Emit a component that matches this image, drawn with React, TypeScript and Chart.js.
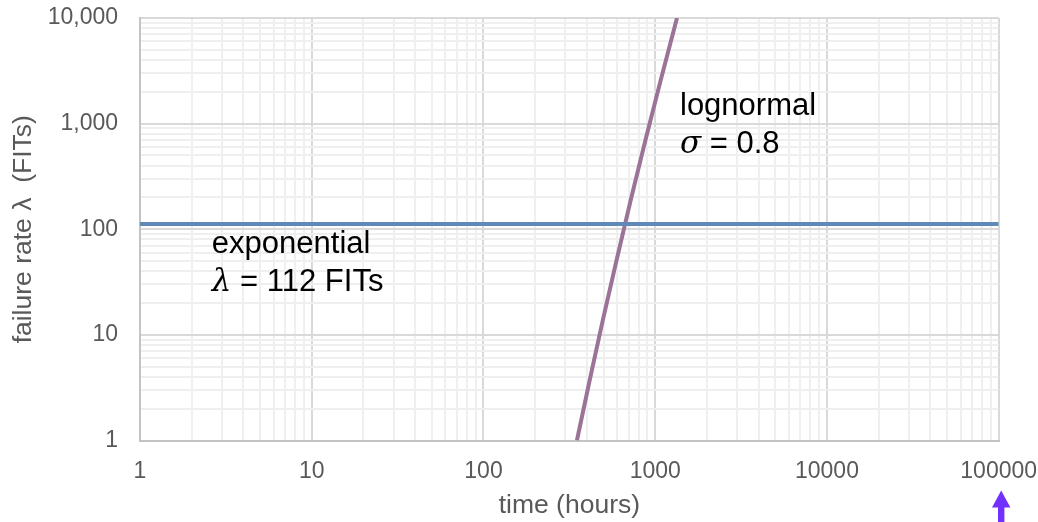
import React, { useEffect, useRef } from 'react';
import { Chart, registerables } from 'chart.js';

Chart.register(...registerables);

// ---- data ----
const exponentialTimes = [1, 100000];
const exponentialRates = [112, 112];

const lognormalTimes = [350, 415, 495, 595, 719, 876, 1075, 1339];
const lognormalRates = [1, 3.7, 13.7, 50.6, 187, 693, 2566, 10000];

const xDecades = [1, 10, 100, 1000, 10000, 100000];
const yDecades = [1, 10, 100, 1000, 10000];
const xTickLabels = ['1', '10', '100', '1000', '10000', '100000'];
const yTickLabels = ['1', '10', '100', '1,000', '10,000'];
const minorMultipliers = [2, 3, 4, 5, 6, 7, 8, 9];

const xTitle = 'time (hours)';
const yTitle = 'failure rate \u03bb  (FITs)';
const lognormalLabel = ['lognormal', '\u03c3', ' = 0.8'];
const exponentialLabel = ['exponential', '\u03bb', ' = 112 FITs'];

// ---- styles ----
const SANS = '"Liberation Sans", Arial, sans-serif';
const SERIF = '"DejaVu Serif", "Liberation Serif", serif';
const MAJOR = '#d9d9d9';
const MINOR = '#efefef';
const AXIS_TEXT = '#595959';
const BLUE = '#6089b8';
const PURPLE = '#9b7397';
const ARROW = '#7030ff';

function buildTicks(decades: number[]) {
  const ticks: { value: number; major: boolean }[] = [];
  decades.forEach((d, i) => {
    ticks.push({ value: d, major: true });
    if (i < decades.length - 1) {
      minorMultipliers.forEach((m) => ticks.push({ value: d * m, major: false }));
    }
  });
  return ticks;
}

function labelFor(decades: number[], labels: string[], v: number) {
  const idx = decades.findIndex((d) => Math.abs(d - v) < d * 1e-9);
  return idx >= 0 ? labels[idx] : '';
}

const annotationPlugin = {
  id: 'annotations',
  afterDraw(chart: any) {
    const { ctx, scales } = chart;
    const xs = scales.x;
    const ys = scales.y;
    ctx.save();
    ctx.textBaseline = 'alphabetic';
    ctx.textAlign = 'left';
    ctx.fillStyle = '#000';
    const drawLabel = (lines: string[], xv: number, yv: number) => {
      const x = xs.getPixelForValue(xv);
      const y = ys.getPixelForValue(yv);
      ctx.font = `31px ${SANS}`;
      ctx.fillText(lines[0], x, y);
      ctx.font = `italic 31px ${SERIF}`;
      ctx.fillText(lines[1], x, y + 38);
      const w = ctx.measureText(lines[1]).width;
      ctx.font = `31px ${SANS}`;
      ctx.fillText(lines[2], x + w, y + 38);
    };
    drawLabel(lognormalLabel, 1394, 1208);
    drawLabel(exponentialLabel, 2.62, 59.3);

    // arrow under the 100000 tick
    const ax = xs.getPixelForValue(100000) + 2.5;
    const base = chart.chartArea.bottom;
    ctx.fillStyle = ARROW;
    ctx.beginPath();
    ctx.moveTo(ax, base + 50);
    ctx.lineTo(ax + 9.2, base + 67);
    ctx.lineTo(ax - 9.2, base + 67);
    ctx.closePath();
    ctx.fill();
    ctx.fillRect(ax - 3.2, base + 66, 6.4, 20);
    ctx.restore();
  },
};

export default function App() {
  const ref = useRef<HTMLCanvasElement>(null);

  useEffect(() => {
    const canvas = ref.current;
    if (!canvas) return;
    const chart = new Chart(canvas, {
      type: 'line',
      data: {
        datasets: [
          {
            label: 'exponential',
            data: exponentialTimes.map((t, i) => ({ x: t, y: exponentialRates[i] })),
            borderColor: BLUE,
            borderWidth: 4,
            pointRadius: 0,
            fill: false,
          },
          {
            label: 'lognormal',
            data: lognormalTimes.map((t, i) => ({ x: t, y: lognormalRates[i] })),
            borderColor: PURPLE,
            borderWidth: 4,
            pointRadius: 0,
            fill: false,
            tension: 0,
          },
        ],
      },
      options: {
        animation: false,
        responsive: false,
        maintainAspectRatio: false,
        layout: { padding: { left: 0, top: 18, right: 39.3, bottom: 0 } },
        plugins: {
          legend: { display: false },
          tooltip: { enabled: false },
        },
        scales: {
          x: {
            type: 'logarithmic',
            position: 'bottom',
            min: 1,
            max: 100000,
            afterBuildTicks: (s: any) => {
              s.ticks = buildTicks(xDecades);
            },
            afterFit: (s: any) => {
              s.height = 81.5;
              s.paddingLeft = 0;
              s.paddingRight = 0;
              s.paddingTop = 0;
              s.paddingBottom = 0;
            },
            grid: {
              color: (c: any) => (c.tick && c.tick.major ? MAJOR : MINOR),
              lineWidth: 2,
              drawTicks: false,
            },
            border: { color: '#c4c4c4', width: 2 },
            ticks: {
              autoSkip: false,
              maxRotation: 0,
              minRotation: 0,
              padding: 17,
              color: AXIS_TEXT,
              font: { family: SANS, size: 23 },
              callback: (v: any) => labelFor(xDecades, xTickLabels, Number(v)),
            },
            title: {
              display: true,
              text: xTitle,
              color: AXIS_TEXT,
              font: { family: SANS, size: 26.5 },
              padding: { top: 0, bottom: 0 },
            },
          },
          y: {
            type: 'logarithmic',
            min: 1,
            max: 10000,
            afterBuildTicks: (s: any) => {
              s.ticks = buildTicks(yDecades);
            },
            afterFit: (s: any) => {
              s.width = 140;
              s.paddingLeft = 0;
              s.paddingRight = 0;
              s.paddingTop = 0;
              s.paddingBottom = 0;
            },
            grid: {
              color: (c: any) => (c.tick && c.tick.major ? MAJOR : MINOR),
              lineWidth: 2,
              drawTicks: false,
            },
            border: { color: '#c4c4c4', width: 2 },
            ticks: {
              autoSkip: false,
              padding: 22,
              color: AXIS_TEXT,
              font: { family: SANS, size: 23 },
              callback: (v: any) => labelFor(yDecades, yTickLabels, Number(v)),
            },
            title: {
              display: true,
              text: yTitle,
              color: AXIS_TEXT,
              font: { family: SANS, size: 26.5 },
              padding: { top: 8, bottom: 0 },
            },
          },
        },
      } as any,
      plugins: [annotationPlugin],
    });
    return () => chart.destroy();
  }, []);

  return (
    <div style={{ position: 'fixed', left: 0, top: 0, width: 1038, height: 522, background: '#fff' }}>
      <canvas ref={ref} width={1038} height={522} style={{ display: 'block', width: 1038, height: 522 }} />
    </div>
  );
}
